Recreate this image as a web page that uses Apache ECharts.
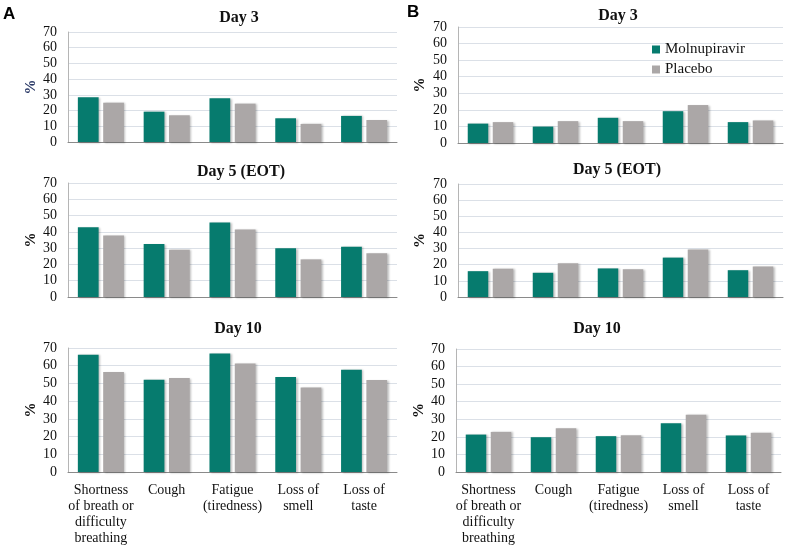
<!DOCTYPE html>
<html>
<head>
<meta charset="utf-8">
<script src="https://cdn.jsdelivr.net/npm/echarts@6/dist/echarts.min.js"></script>
<style>
html,body{margin:0;padding:0;background:#fff;}
#c{width:787px;height:546px;}
</style>
</head>
<body>
<div id="c"></div>
<script>
var categories = ['Shortness\nof breath or\ndifficulty\nbreathing', 'Cough', 'Fatigue\n(tiredness)', 'Loss of\nsmell', 'Loss of\ntaste'];
var yTicks = [0, 10, 20, 30, 40, 50, 60, 70];
var seriesNames = ['Molnupiravir', 'Placebo'];
var dayTitles = ['Day 3', 'Day 5 (EOT)', 'Day 10'];

var aDay3Mol = [28.5, 19.3, 27.8, 15.1, 16.6];
var aDay3Pla = [25.0, 17.0, 24.4, 11.5, 14.0];
var aDay5Mol = [42.9, 32.5, 45.8, 29.9, 30.9];
var aDay5Pla = [37.8, 29.0, 41.5, 23.1, 26.8];
var aDay10Mol = [66.2, 52.1, 66.9, 53.6, 57.7];
var aDay10Pla = [56.4, 53.0, 61.2, 47.7, 51.9];

var bDay3Mol = [11.7, 9.9, 15.2, 19.2, 12.6];
var bDay3Pla = [12.6, 13.2, 13.2, 22.9, 13.6];
var bDay5Mol = [16.0, 15.0, 17.7, 24.4, 16.6];
var bDay5Pla = [17.5, 20.9, 17.2, 29.4, 18.9];
var bDay10Mol = [21.3, 19.8, 20.4, 27.7, 20.8];
var bDay10Pla = [22.8, 24.9, 20.9, 32.6, 22.3];

var GREEN = '#067b6e';
var GRAY = '#aba7a7';
var SERIF = '"Liberation Serif", "Times New Roman", serif';

// layout of the six panels
var panels = [
  {grid: {left: 68, top: 32, width: 329, height: 110}, title: {x: 234, y: 5}, mol: aDay3Mol, pla: aDay3Pla, day: 0, pctColor: '#2b3a67', labels: false, gap: 28},
  {grid: {left: 68, top: 183, width: 329, height: 114}, title: {x: 236, y: 159}, mol: aDay5Mol, pla: aDay5Pla, day: 1, pctColor: '#111', labels: false, gap: 28},
  {grid: {left: 68, top: 348, width: 329, height: 126}, title: {x: 233, y: 316}, mol: aDay10Mol, pla: aDay10Pla, day: 2, pctColor: '#111', labels: true, gap: 28},
  {grid: {left: 458, top: 27, width: 325, height: 116}, title: {x: 613, y: 3}, mol: bDay3Mol, pla: bDay3Pla, day: 0, pctColor: '#111', labels: false, gap: 30},
  {grid: {left: 458, top: 184, width: 325, height: 113}, title: {x: 612, y: 157}, mol: bDay5Mol, pla: bDay5Pla, day: 1, pctColor: '#111', labels: false, gap: 30},
  {grid: {left: 456, top: 349, width: 325, height: 124}, title: {x: 592, y: 316}, mol: bDay10Mol, pla: bDay10Pla, day: 2, pctColor: '#111', labels: true, gap: 29}
];

var grids = [], xAxes = [], yAxes = [], series = [], titles = [];
panels.forEach(function (p, i) {
  grids.push(p.grid);
  titles.push({
    text: dayTitles[p.day], left: p.title.x, top: p.title.y, textAlign: 'center',
    textStyle: {fontFamily: SERIF, fontSize: 16, fontWeight: 'bold', color: '#111'}
  });
  xAxes.push({
    type: 'category', gridIndex: i, data: categories,
    axisLine: {show: true, lineStyle: {color: '#8a8a8a', width: 1}},
    axisTick: {show: false},
    axisLabel: {show: p.labels, interval: 0, margin: 10, fontFamily: SERIF, fontSize: 14, lineHeight: 16, color: '#111'}
  });
  yAxes.push({
    type: 'value', gridIndex: i, min: yTicks[0], max: yTicks[yTicks.length - 1], interval: yTicks[1] - yTicks[0],
    name: '%', nameLocation: 'middle', nameRotate: 90, nameGap: p.gap,
    nameTextStyle: {fontFamily: SERIF, fontSize: 15, fontWeight: 'bold', color: p.pctColor},
    axisLine: {show: true, lineStyle: {color: '#b5b5b5', width: 1}},
    axisTick: {show: false},
    axisLabel: {margin: 11, fontFamily: SERIF, fontSize: 14, color: '#111'},
    splitLine: {show: true, lineStyle: {color: '#dbe0e7', width: 1}}
  });
  [p.mol, p.pla].forEach(function (vals, k) {
    series.push({
      type: 'bar', name: seriesNames[k], xAxisIndex: i, yAxisIndex: i, data: vals,
      barCategoryGap: '30%', barGap: '22%',
      itemStyle: {color: k === 0 ? GREEN : GRAY, shadowBlur: 2, shadowOffsetX: 1.5, shadowOffsetY: 0.5, shadowColor: 'rgba(0,0,0,0.25)'},
      silent: true, animation: false
    });
  });
});

var chart = echarts.init(document.getElementById('c'), null, {renderer: 'canvas'});
chart.setOption({
  backgroundColor: '#fff',
  animation: false,
  title: titles,
  grid: grids,
  xAxis: xAxes,
  yAxis: yAxes,
  series: series,
  legend: {
    data: seriesNames, orient: 'vertical', left: 652, top: 42, padding: 0,
    itemWidth: 8, itemHeight: 8, itemGap: 5, icon: 'rect',
    textStyle: {fontFamily: SERIF, fontSize: 15, color: '#111'},
    selectedMode: false
  },
  graphic: [
    {type: 'text', left: 3, top: 6, style: {text: 'A', font: 'bold 17px "Liberation Sans", Arial, sans-serif', fill: '#000'}},
    {type: 'text', left: 407, top: 4, style: {text: 'B', font: 'bold 17px "Liberation Sans", Arial, sans-serif', fill: '#000'}}
  ]
});
</script>
</body>
</html>
